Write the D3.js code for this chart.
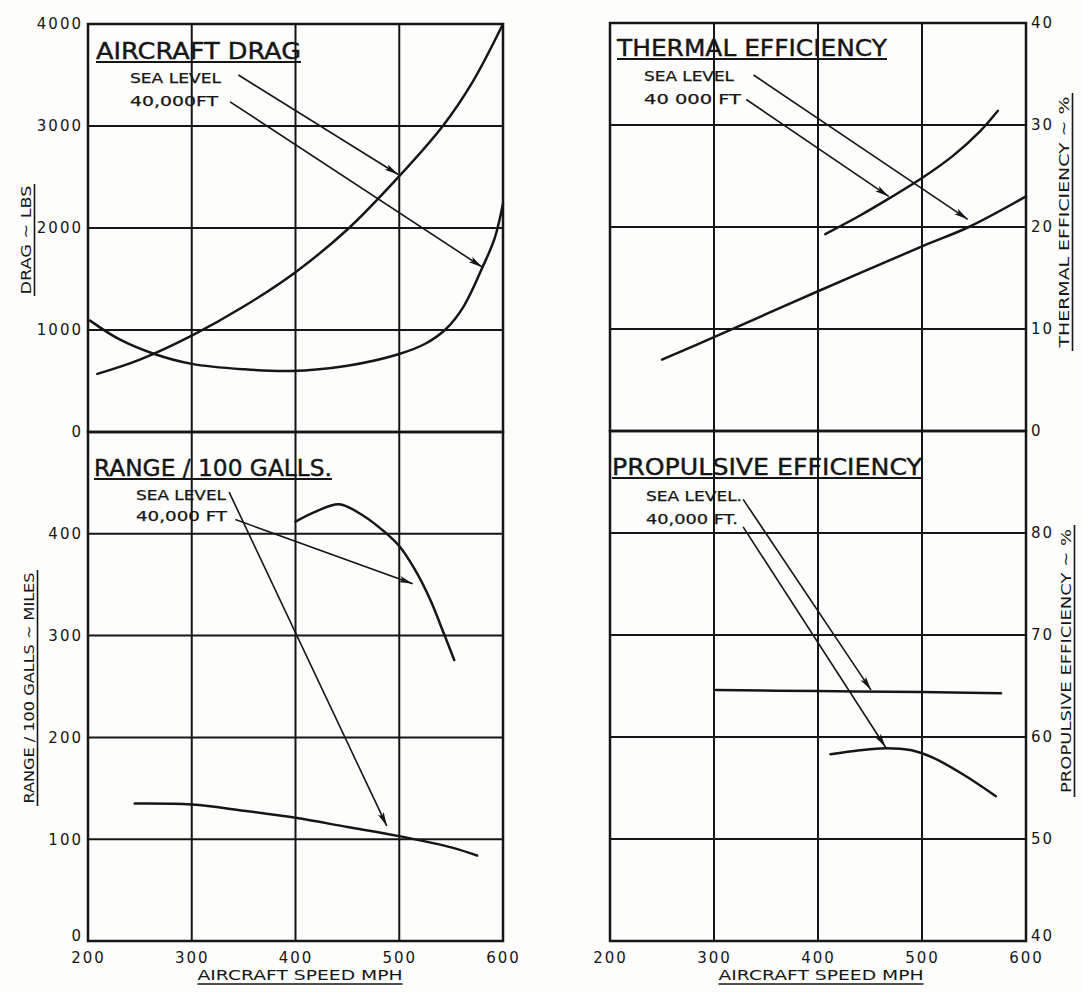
<!DOCTYPE html>
<html>
<head>
<meta charset="utf-8">
<script src="https://cdn.jsdelivr.net/npm/d3@7"></script>
<style>
  html, body { margin: 0; padding: 0; background: #fdfdfc; }
  svg { display: block; }
  text { font-family: "DejaVu Sans", "Liberation Sans", sans-serif; fill: #161616; }
</style>
</head>
<body>
<svg id="chart" width="1082" height="992"></svg>
<script>
// ---------------- DATA ----------------
const speedTicks = [200, 300, 400, 500, 600];
const dragTicks = [0, 1000, 2000, 3000, 4000];
const thermalTicks = [0, 10, 20, 30, 40];
const rangeTicks = [0, 100, 200, 300, 400];
const propTicks = [40, 50, 60, 70, 80];

// Aircraft drag (lbs)
const dragSeaSpeed = [209, 250, 300, 350, 400, 450, 500, 542, 570, 600];
const dragSea      = [570, 710, 945, 1230, 1567, 1985, 2508, 3000, 3420, 4000];
const drag40kSpeed = [202, 230, 264, 300, 350, 395, 450, 500, 525, 545, 562, 580, 592, 600];
const drag40k      = [1092, 910, 765, 668, 615, 598, 650, 765, 865, 1010, 1230, 1610, 1900, 2240];

// Thermal efficiency (%)
const thermalSeaSpeed = [250, 300, 400, 500, 545, 600];
const thermalSea      = [7.0, 9.2, 13.7, 18.1, 20.0, 23.0];
const thermal40kSpeed = [407, 440, 470, 500, 530, 555, 573];
const thermal40k      = [19.3, 21.1, 22.9, 24.8, 27.0, 29.3, 31.4];

// Range per 100 gallons (miles)
const rangeSeaSpeed = [245, 300, 350, 400, 450, 500, 550, 575];
const rangeSea      = [135, 134, 128, 121, 112, 103, 92, 84];
const range40kSpeed = [400, 420, 442, 465, 488, 500, 515, 530, 543, 553];
const range40k      = [412, 422, 429, 418, 400, 388, 365, 335, 302, 276];

// Propulsive efficiency (%)
const propSeaSpeed = [302, 400, 500, 576];
const propSea      = [64.6, 64.5, 64.4, 64.3];
const prop40kSpeed = [412, 440, 465, 490, 510, 540, 571];
const prop40k      = [58.3, 58.7, 58.9, 58.7, 58.0, 56.3, 54.2];

// Annotation arrows (data units: speed, value -> speed, value)
const dragArrows    = [[345, 3500, 499, 2524], [337, 3237, 580, 1616]];
const thermalArrows = [[338, 34.9, 544, 20.75], [331, 32.5, 468, 23.0]];
const rangeArrows   = [[336, 441, 488, 113], [342, 414, 513, 351]];
const propArrows    = [[328, 83.3, 451, 64.6], [328, 80.6, 465, 59.0]];

// ---------------- LAYOUT ----------------
const ink = "#161616";
const svg = d3.select("#chart");

const xL = d3.scaleLinear().domain([200, 600]).range([88, 503]);
const xR = d3.scaleLinear().domain([200, 600]).range([610, 1026]);
const yDrag = d3.scaleLinear().domain([0, 4000]).range([432, 24]);
const yThermal = d3.scaleLinear().domain([0, 40]).range([431, 23]);
const yRange = d3.scaleLinear().domain([0, 500]).range([941, 432]);
const yProp = d3.scaleLinear().domain([40, 90]).range([941, 431]);

svg.append("defs").append("marker")
  .attr("id", "arrow")
  .attr("markerUnits", "userSpaceOnUse")
  .attr("viewBox", "0 -4 14 8")
  .attr("refX", 14).attr("refY", 0)
  .attr("markerWidth", 14).attr("markerHeight", 8)
  .attr("orient", "auto")
  .append("path")
  .attr("d", "M0,-3.2L14,0L0,3.2L3,0Z")
  .attr("fill", ink);

const panels = [
  { x: xL, y: yDrag, gridY: dragTicks, labels: dragTicks, side: "left", bottom: false,
    series: [[dragSeaSpeed, dragSea], [drag40kSpeed, drag40k]], arrows: dragArrows,
    title: "AIRCRAFT DRAG", tx: 96, ty: 59, tw: 205,
    sea: "SEA LEVEL", seaX: 130, seaY: 83, seaW: 91,
    alt: "40,000FT", altX: 130, altY: 106, altW: 88 },
  { x: xR, y: yThermal, gridY: thermalTicks, labels: thermalTicks, side: "right", bottom: false,
    series: [[thermalSeaSpeed, thermalSea], [thermal40kSpeed, thermal40k]], arrows: thermalArrows,
    title: "THERMAL EFFICIENCY", tx: 617, ty: 56, tw: 270,
    sea: "SEA LEVEL", seaX: 644, seaY: 81, seaW: 90,
    alt: "40 000 FT", altX: 644, altY: 104, altW: 97 },
  { x: xL, y: yRange, gridY: [0, 100, 200, 300, 400, 500], labels: rangeTicks, side: "left", bottom: true,
    series: [[rangeSeaSpeed, rangeSea], [range40kSpeed, range40k]], arrows: rangeArrows,
    title: "RANGE / 100 GALLS.", tx: 94, ty: 476, tw: 238,
    sea: "SEA LEVEL", seaX: 136, seaY: 500, seaW: 90,
    alt: "40,000 FT", altX: 136, altY: 521, altW: 91 },
  { x: xR, y: yProp, gridY: [40, 50, 60, 70, 80, 90], labels: propTicks, side: "right", bottom: true,
    series: [[propSeaSpeed, propSea], [prop40kSpeed, prop40k]], arrows: propArrows,
    title: "PROPULSIVE EFFICIENCY", tx: 612, ty: 475, tw: 310,
    sea: "SEA LEVEL.", seaX: 646, seaY: 501, seaW: 96,
    alt: "40,000 FT.", altX: 646, altY: 524, altW: 92 }
];

panels.forEach(p => {
  const g = svg.append("g");
  const [x0, x1] = p.x.range();
  const [yb, yt] = p.y.range();

  // vertical grid
  g.append("g").selectAll("line").data(speedTicks).join("line")
    .attr("x1", d => p.x(d)).attr("x2", d => p.x(d))
    .attr("y1", yt).attr("y2", yb)
    .attr("stroke", ink).attr("stroke-width", 2);
  // horizontal grid
  g.append("g").selectAll("line").data(p.gridY).join("line")
    .attr("x1", x0).attr("x2", x1)
    .attr("y1", d => p.y(d)).attr("y2", d => p.y(d))
    .attr("stroke", ink).attr("stroke-width", 2);
  // frame
  g.append("rect").attr("x", x0).attr("y", yt).attr("width", x1 - x0).attr("height", yb - yt)
    .attr("fill", "none").attr("stroke", ink).attr("stroke-width", 2.5);

  // y tick labels via axis
  const axis = (p.side === "left" ? d3.axisLeft(p.y) : d3.axisRight(p.y))
    .tickValues(p.labels).tickSize(0).tickPadding(5)
    .tickFormat(d3.format("d"));
  const ag = g.append("g")
    .attr("transform", `translate(${p.side === "left" ? x0 : x1},0)`)
    .call(axis);
  ag.select(".domain").remove();
  ag.selectAll("text").attr("font-size", 15).attr("letter-spacing", 2).attr("fill", ink)
    .style("font-family", "DejaVu Sans");
  if (p.bottom) {
    ag.selectAll(".tick").filter((d, i) => i === 0).select("text").attr("dy", "-0.05em");
  }

  // curves
  const line = d3.line().x(d => p.x(d[0])).y(d => p.y(d[1])).curve(d3.curveCatmullRom.alpha(0.5));
  p.series.forEach(([xs, ys]) => {
    g.append("path").datum(xs.map((v, i) => [v, ys[i]]))
      .attr("d", line).attr("fill", "none").attr("stroke", ink)
      .attr("stroke-width", 2.5).attr("stroke-linecap", "round");
  });

  // arrows
  g.append("g").selectAll("line").data(p.arrows).join("line")
    .attr("x1", d => p.x(d[0])).attr("y1", d => p.y(d[1]))
    .attr("x2", d => p.x(d[2])).attr("y2", d => p.y(d[3]))
    .attr("stroke", ink).attr("stroke-width", 1.6)
    .attr("marker-end", "url(#arrow)");

  // title (underlined)
  g.append("text").attr("x", p.tx).attr("y", p.ty).text(p.title)
    .attr("font-size", 23).attr("textLength", p.tw).attr("lengthAdjust", "spacingAndGlyphs")
    .attr("stroke", ink).attr("stroke-width", 0.4);
  g.append("line").attr("x1", p.tx).attr("x2", p.tx + p.tw)
    .attr("y1", p.ty + 3).attr("y2", p.ty + 3).attr("stroke", ink).attr("stroke-width", 2);

  // series labels
  g.append("text").attr("x", p.seaX).attr("y", p.seaY).text(p.sea)
    .attr("font-size", 14).attr("textLength", p.seaW).attr("lengthAdjust", "spacingAndGlyphs")
    .attr("stroke", ink).attr("stroke-width", 0.25);
  g.append("text").attr("x", p.altX).attr("y", p.altY).text(p.alt)
    .attr("font-size", 14).attr("textLength", p.altW).attr("lengthAdjust", "spacingAndGlyphs")
    .attr("stroke", ink).attr("stroke-width", 0.25);
});

// x tick labels under bottom panels
[xL, xR].forEach(sc => {
  const ax = svg.append("g").attr("transform", "translate(0,941)")
    .call(d3.axisBottom(sc).tickValues(speedTicks).tickSize(0).tickPadding(11).tickFormat(d3.format("d")));
  ax.select(".domain").remove();
  ax.selectAll("text").attr("font-size", 15).attr("letter-spacing", 2).attr("fill", ink)
    .style("font-family", "DejaVu Sans");
});

// x axis titles
[[300, 205], [821, 205]].forEach(([cx, w]) => {
  svg.append("text").attr("x", cx - w / 2).attr("y", 980).text("AIRCRAFT SPEED MPH")
    .attr("font-size", 14).attr("textLength", w).attr("lengthAdjust", "spacingAndGlyphs");
  svg.append("line").attr("x1", cx - w / 2).attr("x2", cx + w / 2)
    .attr("y1", 984).attr("y2", 984).attr("stroke", ink).attr("stroke-width", 1.6);
});

// rotated y axis titles: [text, baselineX, centerY, length, underlineLength]
const yTitles = [
  ["DRAG ~ LBS", 31, 240, 109, 112],
  ["RANGE / 100 GALLS ~ MILES", 34, 688, 231, 236],
  ["THERMAL EFFICIENCY ~ %", 1069, 222, 251, 258],
  ["PROPULSIVE EFFICIENCY ~ %", 1071, 661, 264, 272]
];
yTitles.forEach(([t, bx, cy, len, ul]) => {
  const g = svg.append("g").attr("transform", `translate(${bx},${cy}) rotate(-90)`);
  g.append("text").attr("x", -len / 2).attr("y", 0).text(t)
    .attr("font-size", 14).attr("textLength", len).attr("lengthAdjust", "spacingAndGlyphs");
  g.append("line").attr("x1", -ul / 2).attr("x2", ul / 2).attr("y1", 3.5).attr("y2", 3.5)
    .attr("stroke", ink).attr("stroke-width", 1.6);
});
</script>
</body>
</html>
